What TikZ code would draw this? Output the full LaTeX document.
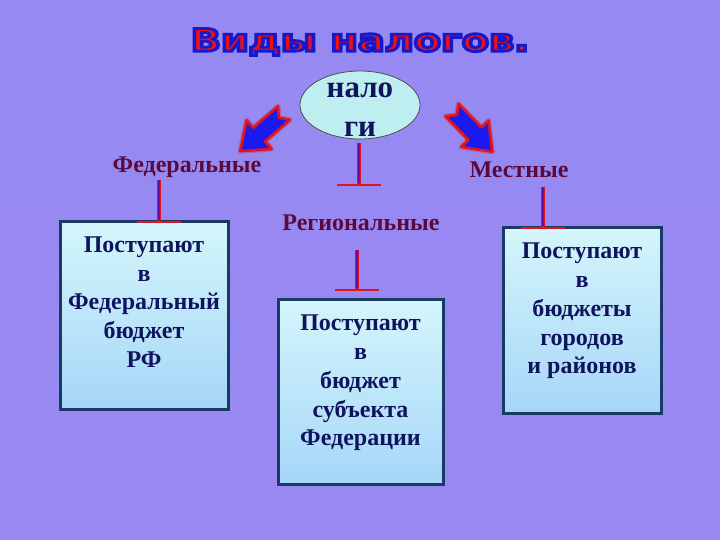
\documentclass[tikz,border=0pt]{standalone}
\usepackage{fontspec}
\setmainfont{Liberation Serif}
\newfontfamily\titlefont{DejaVu Sans}
\usetikzlibrary{shapes.geometric}
\definecolor{bgtop}{HTML}{968AF2}
\definecolor{bgmid}{HTML}{C4C4F8}
\definecolor{bgbot}{HTML}{9A88F2}
\definecolor{navy}{HTML}{10145E}
\definecolor{maroon}{HTML}{5C0A3C}
\definecolor{boxline}{HTML}{1A3A66}
\definecolor{boxtop}{HTML}{D4F6FB}
\definecolor{boxbot}{HTML}{A6D6F8}
\definecolor{arrred}{HTML}{E0141E}
\definecolor{arrblue}{HTML}{1A1AF0}
\definecolor{elfill}{HTML}{BEEEF0}
\definecolor{ttlred}{HTML}{F01010}
\newcommand\ttltext{Виды налогов.}
\newcommand\ttlbox{\scalebox{1.28}[1]{%
  {\color{ttlred}\special{pdf:code 0.09 0.09 0.80 RG 2 Tr 2.8 w}\ttltext\special{pdf:code 0 Tr}}}}
\tikzset{
  budget/.style={rectangle, draw=boxline, line width=3pt, top color=boxtop, bottom color=boxbot, inner sep=0pt},
  boxtext/.style={text=navy, align=center, font=\bfseries\fontsize{24}{28.7}\selectfont},
  kind/.style={text=maroon, font=\bfseries\fontsize{24}{26}\selectfont},
  tshaft/.style={draw=arrred, line width=4pt},
  tcore/.style={draw=arrblue!70!red, line width=1.3pt},
  tbar/.style={draw=arrred, line width=2.6pt},
  bigarrow/.style={fill=arrblue, draw=arrred, line width=2.6pt, line join=round},
  bigglow/.style={draw=arrred, opacity=0.35, line width=5pt, line join=round},
  ttlglow/.style={fill=black!60!blue, opacity=0.25},
}
\begin{document}
\begin{tikzpicture}[x=1pt,y=1pt]
\useasboundingbox (0,0) rectangle (720,-540);
\shade[top color=bgtop, middle color=bgmid, bottom color=bgbot] (0,0) rectangle (720,-540);

% title
\node[inner sep=0pt, font=\titlefont\bfseries\fontsize{31}{31}\selectfont] (title) at (360,-42) {\ttlbox};

% central ellipse
\node[ellipse, draw=black!70, line width=0.8pt, fill=elfill, minimum width=120pt, minimum height=68pt, inner sep=0pt] (nal) at (360,-105) {};
\node[text=navy, align=center, font=\bfseries\fontsize{31}{39}\selectfont] (nalt) at (360,-110) {нало\\ги};

% big arrows
\begin{scope}[shift={(284,-113)}, rotate=221]
  \path[bigglow] (0,9) -- (33,9) -- (33,19) -- (58,0) -- (33,-19) -- (33,-9) -- (0,-9) -- (7,0) -- cycle;
  \path[bigarrow] (0,9) -- (33,9) -- (33,19) -- (58,0) -- (33,-19) -- (33,-9) -- (0,-9) -- (7,0) -- cycle;
\end{scope}
\begin{scope}[shift={(452,-110)}, rotate=-46]
  \path[bigglow] (0,9) -- (33,9) -- (33,19) -- (58,0) -- (33,-19) -- (33,-9) -- (0,-9) -- (7,0) -- cycle;
  \path[bigarrow] (0,9) -- (33,9) -- (33,19) -- (58,0) -- (33,-19) -- (33,-9) -- (0,-9) -- (7,0) -- cycle;
\end{scope}

% kind labels
\node[kind] (fed) at (187,-167) {Федеральные};
\node[kind] (mest) at (519,-170) {Местные};
\node[kind] (reg) at (361,-223) {Региональные};

% boxes
\node[budget, minimum width=168pt, minimum height=187pt] (b1) at (144,-315.5) {};
\node[budget, minimum width=165pt, minimum height=185pt] (b2) at (360.5,-391.5) {};
\node[budget, minimum width=158pt, minimum height=185pt] (b3) at (582,-320.5) {};
\node[boxtext] (t1) at (144,-302) {Поступают\\в\\Федеральный\\бюджет\\РФ};
\node[boxtext] (t2) at (360.5,-383) {Поступают\\в\\бюджет\\субъекта\\Федерации};
\node[boxtext] (t3) at (582,-311) {Поступают\\в\\бюджеты\\городов\\и районов};

% T markers
\coordinate (c1a) at (359,-143); \coordinate (c1b) at (359,-185);
\coordinate (c2a) at (357,-250); \coordinate (c2b) at (357,-290);
\coordinate (c3a) at (159,-180); \coordinate (c3b) at (159,-222);
\coordinate (c4a) at (543,-187); \coordinate (c4b) at (543,-228);
\foreach \m in {c1,c2,c3,c4}{
  \draw[tshaft] (\m a) -- (\m b);
  \draw[tcore] (\m a) -- ([yshift=2pt]\m b);
  \draw[tbar] ([xshift=-22pt]\m b) -- ([xshift=22pt]\m b);
}
\end{tikzpicture}
\end{document}
